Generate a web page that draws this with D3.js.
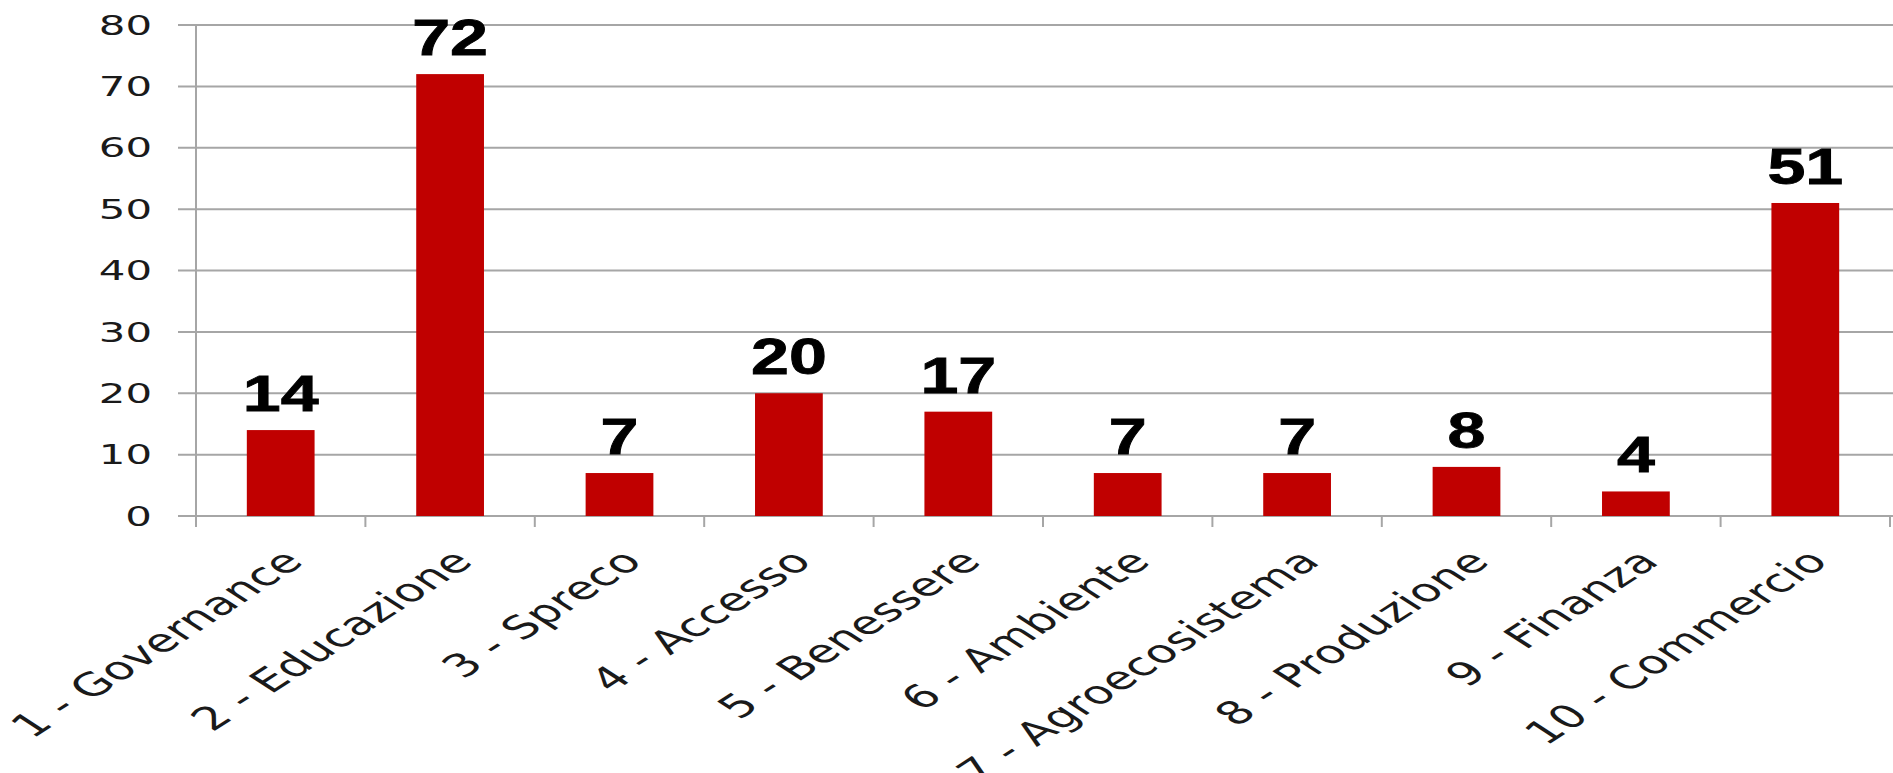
<!DOCTYPE html>
<html>
<head>
<meta charset="utf-8">
<script src="https://cdn.jsdelivr.net/npm/d3@7"></script>
<style>
    html, body { margin: 0; padding: 0; background: #ffffff; }
</style>
</head>
<body>
<div id="chart"></div>
<script>
const categories = [
    "1 - Governance", "2 - Educazione", "3 - Spreco", "4 - Accesso", "5 - Benessere",
    "6 - Ambiente", "7 - Agroecosistema", "8 - Produzione", "9 - Finanza", "10 - Commercio"
];
const values = [14, 72, 7, 20, 17, 7, 7, 8, 4, 51];
const yTicks = [0, 10, 20, 30, 40, 50, 60, 70, 80];

const WIDTH = 1893;
const HEIGHT = 773;
// the original picture is stretched sideways, so the chart is drawn narrow and widened
const STRETCH = 1.55;
const INNER_W = WIDTH / STRETCH;

const LEFT = 196 / STRETCH;
const RIGHT = 1890 / STRETCH;
const TOP = 25;
const BOTTOM = 516;

const svg = d3.select("#chart")
    .append("svg")
    .attr("width", WIDTH)
    .attr("height", HEIGHT);

const g = svg.append("g")
    .attr("transform", `scale(${STRETCH},1)`);

const x = d3.scaleBand()
    .domain(categories)
    .range([LEFT, RIGHT])
    .paddingInner(0.6)
    .paddingOuter(0.3);

const y = d3.scaleLinear()
    .domain([0, 80])
    .range([BOTTOM, TOP]);

// gridlines
g.append("g")
    .selectAll("line")
    .data(yTicks)
    .join("line")
    .attr("x1", 178 / STRETCH)
    .attr("x2", INNER_W)
    .attr("y1", d => y(d))
    .attr("y2", d => y(d))
    .attr("stroke", "#a6a6a6")
    .attr("stroke-width", 2);

// y tick labels
g.append("g")
    .attr("font-family", "DejaVu Sans")
    .attr("font-size", 27)
    .attr("fill", "#1a1a1a")
    .attr("text-anchor", "end")
    .selectAll("text")
    .data(yTicks)
    .join("text")
    .attr("x", 152 / STRETCH)
    .attr("y", d => y(d))
    .attr("dy", "0.36em")
    .text(d => d);

// x axis ticks at the band edges
const step = x.step();
const edges = d3.range(categories.length + 1).map(i => LEFT + i * step);

g.append("g")
    .selectAll("line")
    .data(edges)
    .join("line")
    .attr("x1", d => d)
    .attr("x2", d => d)
    .attr("y1", BOTTOM)
    .attr("y2", BOTTOM + 11)
    .attr("stroke", "#a6a6a6")
    .attr("stroke-width", 2 / STRETCH);

// y axis line
g.append("line")
    .attr("x1", LEFT)
    .attr("x2", LEFT)
    .attr("y1", TOP)
    .attr("y2", BOTTOM + 11)
    .attr("stroke", "#a6a6a6")
    .attr("stroke-width", 2 / STRETCH);

// bars
g.append("g")
    .selectAll("rect")
    .data(values)
    .join("rect")
    .attr("x", (d, i) => x(categories[i]))
    .attr("y", d => y(d))
    .attr("width", x.bandwidth())
    .attr("height", d => BOTTOM - y(d))
    .attr("fill", "#c00000");

// value labels, pulled back in a little so they are not as wide
g.append("g")
    .attr("font-family", "Liberation Sans")
    .attr("font-weight", "bold")
    .attr("font-size", 50)
    .attr("fill", "#000000")
    .attr("stroke", "#000000")
    .attr("stroke-width", 0.8)
    .attr("text-anchor", "middle")
    .selectAll("text")
    .data(values)
    .join("text")
    .attr("transform", (d, i) =>
        `translate(${x(categories[i]) + x.bandwidth() / 2},${y(d) - 19}) scale(0.88,1)`)
    .text(d => d);

// category labels
g.append("g")
    .attr("font-family", "DejaVu Sans")
    .attr("font-size", 32)
    .attr("letter-spacing", 0.3)
    .attr("fill", "#1a1a1a")
    .attr("text-anchor", "end")
    .selectAll("text")
    .data(categories)
    .join("text")
    .attr("transform", d => `translate(${x(d) + x.bandwidth() / 2 + 16},${BOTTOM + 47}) rotate(-45)`)
    .text(d => d);
</script>
</body>
</html>
